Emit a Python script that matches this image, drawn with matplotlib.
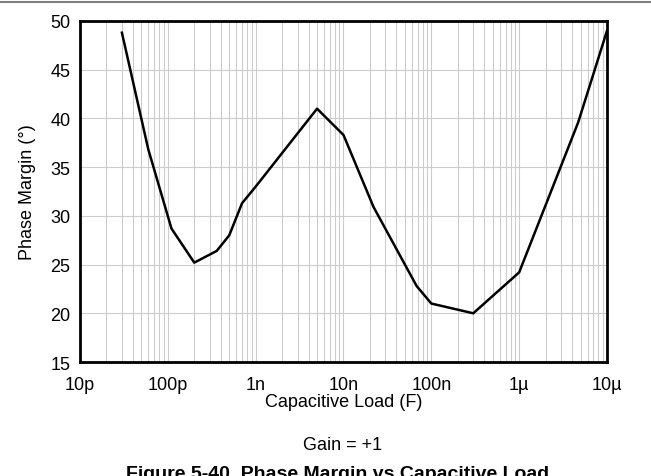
import matplotlib
matplotlib.use("Agg")
import matplotlib.pyplot as plt
from matplotlib.lines import Line2D
from matplotlib.ticker import FixedLocator, FixedFormatter, LogLocator, NullFormatter

plt.rcParams['font.family'] = ['Liberation Sans', 'DejaVu Sans']

# capacitive load (F) and phase margin (deg)
cap_load = [30e-12, 60e-12, 110e-12, 200e-12, 360e-12, 500e-12, 700e-12, 1e-9,
            5e-9, 10e-9, 22e-9, 68e-9, 100e-9, 300e-9, 1e-6, 4.7e-6, 10e-6]
phase_margin = [48.8, 36.8, 28.7, 25.2, 26.4, 28.0, 31.3, 33.0,
                41.0, 38.3, 30.9, 22.8, 21.0, 20.0, 24.2, 39.6, 49.0]

x_ticks = [1e-11, 1e-10, 1e-9, 1e-8, 1e-7, 1e-6, 1e-5]
x_tick_labels = ['10p', '100p', '1n', '10n', '100n', '1µ', '10µ']
y_ticks = [15, 20, 25, 30, 35, 40, 45, 50]

fig = plt.figure(figsize=(6.51, 4.77), dpi=100)
ax = fig.add_axes([80/651, 1 - 363/477, 527/651, 341/477])

ax.plot(cap_load, phase_margin, color='black', linewidth=1.8, zorder=3)

ax.set_xscale('log')
ax.set_xlim(1e-11, 1e-5)
ax.set_ylim(15, 50)
ax.xaxis.set_major_locator(FixedLocator(x_ticks))
ax.xaxis.set_major_formatter(FixedFormatter(x_tick_labels))
ax.xaxis.set_minor_locator(LogLocator(base=10, subs=range(2, 10), numticks=20))
ax.xaxis.set_minor_formatter(NullFormatter())
ax.set_yticks(y_ticks)

ax.grid(True, which='both', axis='x', color='#cccccc', linewidth=0.8)
ax.grid(True, which='major', axis='y', color='#cccccc', linewidth=0.8)
ax.tick_params(which='both', length=0, labelsize=13)
ax.tick_params(axis='y', pad=7)
ax.tick_params(axis='x', pad=10)

for s in ax.spines.values():
    s.set_linewidth(2.0)
    s.set_color('black')

ax.set_xlabel('Capacitive Load (F)', fontsize=13, labelpad=0)
ax.set_ylabel('Phase Margin (°)', fontsize=13, labelpad=10)

fig.text(343/651, 1 - 450/477, 'Gain = +1', ha='center', va='baseline', fontsize=13)
fig.text(338/651, 1 - 479/477, 'Figure 5-40. Phase Margin vs Capacitive Load',
         ha='center', va='baseline', fontsize=14, fontweight='bold')

fig.add_artist(Line2D([0, 1], [1 - 3/477, 1 - 3/477], transform=fig.transFigure,
                      color='#7f7f7f', linewidth=1.5))

fig.savefig('out.png', dpi=100)
